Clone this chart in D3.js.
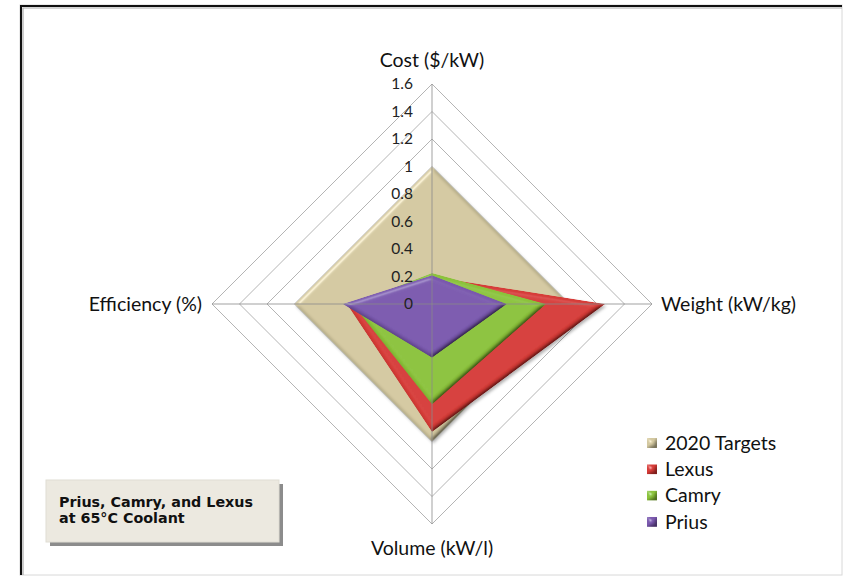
<!DOCTYPE html>
<html>
<head>
<meta charset="utf-8">
<script src="https://cdn.jsdelivr.net/npm/d3@7"></script>
<style>
  html, body { margin: 0; padding: 0; background: #fff; }
  svg { display: block; }
</style>
</head>
<body>
<svg id="chart" width="844" height="576"></svg>
<script>
// Radar chart: power electronics metrics vs. 2020 targets
const axisNames = ["Cost ($/kW)", "Weight (kW/kg)", "Volume (kW/l)", "Efficiency (%)"];
const seriesNames = ["2020 Targets", "Lexus", "Camry", "Prius"];
const targets2020 = [1.0, 1.0, 1.0, 1.0];
const lexus = [0.20, 1.26, 0.93, 0.62];
const camry = [0.225, 0.83, 0.73, 0.58];
const prius = [0.21, 0.545, 0.39, 0.65];
const tickValues = [0, 0.2, 0.4, 0.6, 0.8, 1, 1.2, 1.4, 1.6];
const tickLabels = ["0", "0.2", "0.4", "0.6", "0.8", "1", "1.2", "1.4", "1.6"];
const seriesColors = ["#d3c8a0", "#d63b37", "#8bc23a", "#7a58ae"];
const noteLines = ["Prius, Camry, and Lexus", "at 65\u00B0C Coolant"];

const series = [targets2020, lexus, camry, prius];

const svg = d3.select("#chart");
const cx = 432, cy = 304;
const r = d3.scaleLinear().domain([0, 1.6]).range([0, 220]);
const angle = d3.scalePoint().domain(d3.range(axisNames.length)).range([0, 2 * Math.PI * (axisNames.length - 1) / axisNames.length]);
const pt = (i, v) => {
  const a = angle(i) - Math.PI / 2;
  return [cx + r(v) * Math.cos(a), cy + r(v) * Math.sin(a)];
};

// bevel-like shading for the filled areas
const defs = svg.append("defs");
const f = defs.append("filter").attr("id", "bevel")
  .attr("x", "-10%").attr("y", "-10%").attr("width", "120%").attr("height", "120%");
f.append("feGaussianBlur").attr("in", "SourceAlpha").attr("stdDeviation", 2.2).attr("result", "blur");
const diff = f.append("feDiffuseLighting").attr("in", "blur").attr("surfaceScale", 2.5)
  .attr("diffuseConstant", 1 / Math.sin(50 * Math.PI / 180)).attr("lighting-color", "#fff").attr("result", "diff");
diff.append("feDistantLight").attr("azimuth", 225).attr("elevation", 50);
f.append("feComposite").attr("in", "SourceGraphic").attr("in2", "diff").attr("operator", "arithmetic")
  .attr("k1", 1).attr("k2", 0).attr("k3", 0).attr("k4", 0).attr("result", "shaded");
const spec = f.append("feSpecularLighting").attr("in", "blur").attr("surfaceScale", 2.5)
  .attr("specularConstant", 0.6).attr("specularExponent", 40).attr("lighting-color", "#fff").attr("result", "spec");
spec.append("feDistantLight").attr("azimuth", 225).attr("elevation", 45);
f.append("feComposite").attr("in", "spec").attr("in2", "SourceAlpha").attr("operator", "in").attr("result", "specIn");
f.append("feComposite").attr("in", "shaded").attr("in2", "specIn").attr("operator", "arithmetic")
  .attr("k1", 0).attr("k2", 1).attr("k3", 0.5).attr("k4", 0).attr("result", "lit");
f.append("feComposite").attr("in", "lit").attr("in2", "SourceAlpha").attr("operator", "in");

const shadow = defs.append("filter").attr("id", "soft")
  .attr("x", "-10%").attr("y", "-10%").attr("width", "130%").attr("height", "130%");
shadow.append("feDropShadow").attr("dx", 1.5).attr("dy", 2).attr("stdDeviation", 1.5)
  .attr("flood-color", "#000").attr("flood-opacity", 0.3);

// frame
svg.append("rect").attr("x", 20).attr("y", 5).attr("width", 822).attr("height", 570)
  .attr("fill", "#fff").attr("stroke", "#d8d8d8").attr("stroke-width", 1);
svg.append("path").attr("d", "M21,575 V6 H842").attr("fill", "none").attr("stroke", "#111").attr("stroke-width", 2);
svg.append("path").attr("d", "M23,575 V8 H842").attr("fill", "none").attr("stroke", "#aaa").attr("stroke-width", 1.2);

// concentric grid rings
const line = d3.line();
svg.append("g").selectAll("path").data(tickValues.slice(1)).join("path")
  .attr("d", v => line(axisNames.map((_, i) => pt(i, v))) + "Z")
  .attr("fill", "none").attr("stroke", "#b4b4b4").attr("stroke-width", 1);

// series areas
const areas = svg.append("g").attr("filter", "url(#soft)");
areas.selectAll("path").data(series).join("path")
  .attr("d", d => line(d.map((v, i) => pt(i, v))) + "Z")
  .attr("fill", (d, k) => seriesColors[k])
  .attr("filter", "url(#bevel)");

// spokes
svg.append("g").selectAll("line").data(axisNames).join("line")
  .attr("x1", cx).attr("y1", cy)
  .attr("x2", (d, i) => pt(i, 1.6)[0]).attr("y2", (d, i) => pt(i, 1.6)[1])
  .attr("stroke", "#8a8a8a").attr("stroke-opacity", 0.8).attr("stroke-width", 1);

// radial tick labels
const font = "Lato, 'Open Sans', sans-serif";
svg.append("g").selectAll("text").data(tickValues).join("text")
  .attr("x", cx - 19).attr("y", v => cy - r(v))
  .attr("dy", "0.35em").attr("text-anchor", "end")
  .attr("font-family", font).attr("font-size", 15.5).attr("fill", "#222")
  .text((v, i) => tickLabels[i]);

// axis titles
const titlePos = [
  { x: cx, y: 60, anchor: "middle" },
  { x: 661, y: cy, anchor: "start" },
  { x: cx, y: 548, anchor: "middle" },
  { x: 202, y: cy, anchor: "end" }
];
svg.append("g").selectAll("text").data(axisNames).join("text")
  .attr("x", (d, i) => titlePos[i].x).attr("y", (d, i) => titlePos[i].y)
  .attr("dy", "0.35em").attr("text-anchor", (d, i) => titlePos[i].anchor)
  .attr("font-family", font).attr("font-size", 19.5).attr("fill", "#111")
  .text(d => d);

// legend
const legend = svg.append("g").attr("transform", "translate(647,443)");
const rows = legend.selectAll("g").data(seriesNames).join("g")
  .attr("transform", (d, i) => `translate(0,${i * 26.3})`);
rows.append("rect").attr("x", 0).attr("y", -5).attr("width", 10).attr("height", 10)
  .attr("fill", (d, i) => seriesColors[i]).attr("filter", "url(#bevel)");
rows.append("text").attr("x", 18).attr("y", 0).attr("dy", "0.35em")
  .attr("font-family", font).attr("font-size", 19.5).attr("fill", "#111")
  .text(d => d);

// annotation box
const note = svg.append("g");
note.append("rect").attr("x", 50).attr("y", 484).attr("width", 233).attr("height", 62).attr("fill", "#8c8c8c");
note.append("rect").attr("x", 46).attr("y", 480).attr("width", 233).attr("height", 62)
  .attr("fill", "#ece9e0").attr("stroke", "#e0ddd4");
note.selectAll("text").data(noteLines).join("text")
  .attr("x", 59).attr("y", (d, i) => 507 + i * 16)
  .attr("font-family", "'DejaVu Sans', Verdana, sans-serif").attr("font-weight", "bold")
  .attr("font-size", 14.3).attr("fill", "#111")
  .text(d => d);
</script>
</body>
</html>
